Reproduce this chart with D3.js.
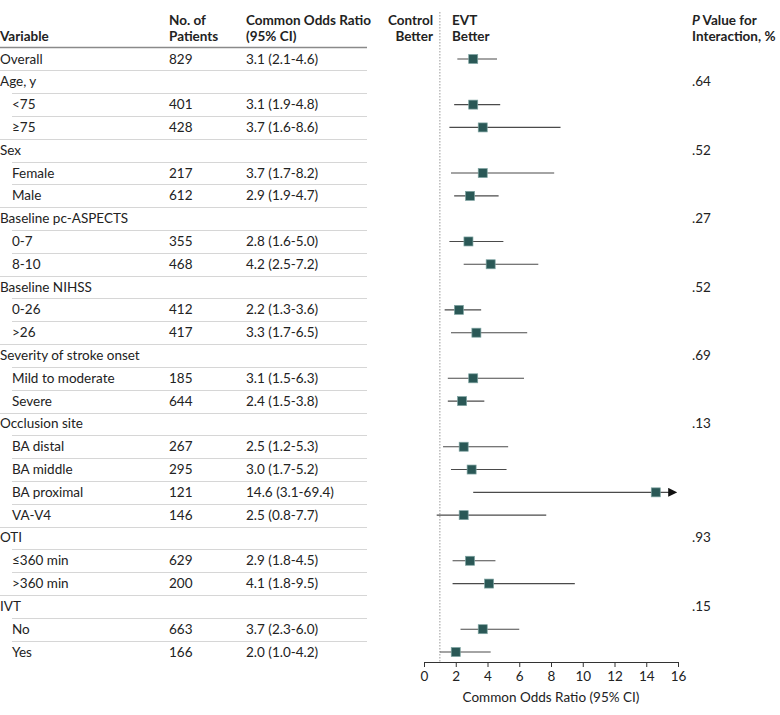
<!DOCTYPE html>
<html>
<head>
<meta charset="utf-8">
<script src="https://cdn.jsdelivr.net/npm/d3@7"></script>
<style>
  body { margin: 0; background: #fff; }
  svg { font-family: Lato, "Noto Sans", sans-serif; }
</style>
</head>
<body>
<div id="chart"></div>
<script>
// row data, top to bottom
var variables = ["Overall", "Age, y", "<75", "\u226575", "Sex", "Female", "Male",
  "Baseline pc-ASPECTS", "0-7", "8-10", "Baseline NIHSS", "0-26", ">26",
  "Severity of stroke onset", "Mild to moderate", "Severe", "Occlusion site",
  "BA distal", "BA middle", "BA proximal", "VA-V4", "OTI", "\u2264360 min", ">360 min",
  "IVT", "No", "Yes"];
var indented = [0, 0, 1, 1, 0, 1, 1, 0, 1, 1, 0, 1, 1, 0, 1, 1, 0, 1, 1, 1, 1, 0, 1, 1, 0, 1, 1];
var patients = [829, null, 401, 428, null, 217, 612, null, 355, 468, null, 412, 417,
  null, 185, 644, null, 267, 295, 121, 146, null, 629, 200, null, 663, 166];
var oddsRatio = [3.1, null, 3.1, 3.7, null, 3.7, 2.9, null, 2.8, 4.2, null, 2.2, 3.3,
  null, 3.1, 2.4, null, 2.5, 3.0, 14.6, 2.5, null, 2.9, 4.1, null, 3.7, 2.0];
var ciLow = [2.1, null, 1.9, 1.6, null, 1.7, 1.9, null, 1.6, 2.5, null, 1.3, 1.7,
  null, 1.5, 1.5, null, 1.2, 1.7, 3.1, 0.8, null, 1.8, 1.8, null, 2.3, 1.0];
var ciHigh = [4.6, null, 4.8, 8.6, null, 8.2, 4.7, null, 5.0, 7.2, null, 3.6, 6.5,
  null, 6.3, 3.8, null, 5.3, 5.2, 69.4, 7.7, null, 4.5, 9.5, null, 6.0, 4.2];
var pInteraction = ["", ".64", "", "", ".52", "", "", ".27", "", "", ".52", "", "",
  ".69", "", "", ".13", "", "", "", "", ".93", "", "", ".15", "", ""];
var xTicks = [0, 2, 4, 6, 8, 10, 12, 14, 16];

var width = 780, height = 715;
var svg = d3.select("#chart").append("svg")
  .attr("width", width)
  .attr("height", height);

var rows = variables.map(function(v, i) {
  return { label: v, indent: indented[i], n: patients[i], or: oddsRatio[i],
           lo: ciLow[i], hi: ciHigh[i], p: pInteraction[i] };
});

var y = d3.scalePoint().domain(d3.range(rows.length)).range([59, 652]);
var step = y.step();
var x = d3.scaleLinear().domain([0, 16]).range([424, 678]);
var axisY = 662;

var colVar = 0, colN = 169, colOR = 246, tableEnd = 367, colP = 692;

var fmt = d3.format(".1f");

// header
var hdr = svg.append("g").attr("font-size", 13.5).attr("font-weight", 700).attr("fill", "#222");
hdr.append("text").attr("x", colVar).attr("y", 41).text("Variable");
hdr.append("text").attr("x", colN).attr("y", 25).text("No. of");
hdr.append("text").attr("x", colN).attr("y", 41).text("Patients");
hdr.append("text").attr("x", colOR).attr("y", 25).text("Common Odds Ratio");
hdr.append("text").attr("x", colOR).attr("y", 41).text("(95% CI)");
hdr.append("text").attr("x", 433).attr("y", 25).attr("text-anchor", "end").text("Control");
hdr.append("text").attr("x", 433).attr("y", 41).attr("text-anchor", "end").text("Better");
hdr.append("text").attr("x", 452).attr("y", 25).text("EVT");
hdr.append("text").attr("x", 452).attr("y", 41).text("Better");
var pHead = hdr.append("text").attr("x", colP).attr("y", 25);
pHead.append("tspan").attr("font-style", "italic").text("P");
pHead.append("tspan").text(" Value for");
hdr.append("text").attr("x", colP).attr("y", 41).text("Interaction, %");

svg.append("line")
  .attr("x1", 0).attr("x2", tableEnd)
  .attr("y1", 47.5).attr("y2", 47.5)
  .attr("stroke", "#8a8a8a").attr("stroke-width", 1.5);

// row separators
svg.append("g").selectAll("line")
  .data(rows.slice(1))
  .enter().append("line")
    .attr("x1", function(d) { return d.indent ? 12 : 0; })
    .attr("x2", tableEnd)
    .attr("y1", function(d, i) { return Math.round(y(i + 1) - step / 2) + 0.5; })
    .attr("y2", function(d, i) { return Math.round(y(i + 1) - step / 2) + 0.5; })
    .attr("stroke", "#d6d6d6").attr("stroke-width", 1);

// table text
var body = svg.append("g").attr("font-size", 13.5).attr("fill", "#222");
var rowG = body.selectAll("g.row")
  .data(rows)
  .enter().append("g")
    .attr("class", "row")
    .attr("transform", function(d, i) { return "translate(0," + (y(i) + 4.5) + ")"; });

rowG.append("text")
  .attr("x", function(d) { return d.indent ? 12 : colVar; })
  .text(function(d) { return d.label; });
rowG.append("text")
  .attr("x", colN)
  .text(function(d) { return d.n == null ? "" : d.n; });
rowG.append("text")
  .attr("x", colOR)
  .text(function(d) { return d.or == null ? "" : fmt(d.or) + " (" + fmt(d.lo) + "-" + fmt(d.hi) + ")"; });
rowG.append("text")
  .attr("x", colP)
  .text(function(d) { return d.p; });

// reference line at 1
svg.append("line")
  .attr("x1", x(1)).attr("x2", x(1))
  .attr("y1", 12).attr("y2", axisY)
  .attr("stroke", "#9a9a9a").attr("stroke-width", 1)
  .attr("stroke-dasharray", "1.5,1.5");

// arrow marker for truncated CI
svg.append("defs").append("marker")
  .attr("id", "arrow")
  .attr("viewBox", "0 0 10 10")
  .attr("refX", 2).attr("refY", 5)
  .attr("markerWidth", 9).attr("markerHeight", 9)
  .attr("markerUnits", "userSpaceOnUse")
  .attr("orient", "auto")
  .append("path")
    .attr("d", "M0,0L10,5L0,10Z")
    .attr("fill", "#111");

var est = rows.map(function(d, i) { d.idx = i; return d; }).filter(function(d) { return d.or != null; });

var plot = svg.append("g");
plot.selectAll("line.ci")
  .data(est)
  .enter().append("line")
    .attr("class", "ci")
    .attr("x1", function(d) { return x(Math.max(d.lo, 0)); })
    .attr("x2", function(d) { return d.hi > 16 ? x(16) - 8 : x(d.hi); })
    .attr("y1", function(d) { return y(d.idx); })
    .attr("y2", function(d) { return y(d.idx); })
    .attr("stroke", "#4a4a4a").attr("stroke-width", 1.1)
    .attr("marker-end", function(d) { return d.hi > 16 ? "url(#arrow)" : null; });

var sq = 9;
plot.selectAll("rect.est")
  .data(est)
  .enter().append("rect")
    .attr("class", "est")
    .attr("x", function(d) { return x(d.or) - sq / 2; })
    .attr("y", function(d) { return y(d.idx) - sq / 2; })
    .attr("width", sq).attr("height", sq)
    .attr("fill", "#2a5856")
    .attr("stroke", "#7ea3a1").attr("stroke-width", 0.7);

// x axis
var axis = svg.append("g")
  .attr("transform", "translate(0," + axisY + ")")
  .call(d3.axisBottom(x).tickValues(xTicks).tickSize(5).tickPadding(4).tickFormat(d3.format("d")));
axis.select(".domain").attr("stroke", "#333");
axis.selectAll(".tick line").attr("stroke", "#333");
axis.selectAll(".tick text").attr("font-size", 13.5).attr("fill", "#222").attr("font-family", "Lato, sans-serif");

svg.append("text")
  .attr("x", x(8)).attr("y", 702)
  .attr("text-anchor", "middle")
  .attr("font-size", 13.5).attr("fill", "#222")
  .text("Common Odds Ratio (95% CI)");
</script>
</body>
</html>
